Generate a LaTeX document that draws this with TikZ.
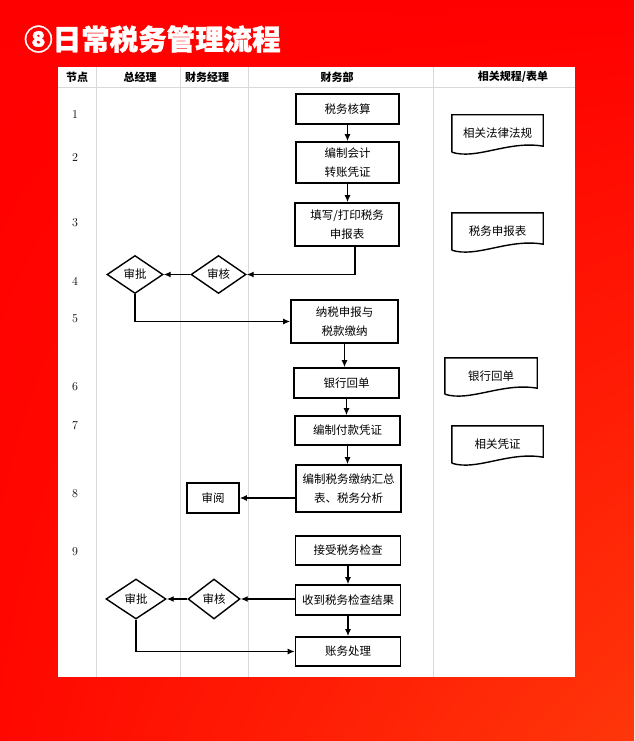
\documentclass[tikz,border=0pt]{standalone}
\usepackage{fontspec}
\newfontfamily\cjk{Noto Sans CJK SC}
\newfontfamily\cjktitle{Noto Sans CJK SC}[FakeBold=1.2]
\usetikzlibrary{arrows.meta, calc, shapes.geometric, shadings}
\definecolor{bgred}{RGB}{255,8,0}
\definecolor{bgorange}{RGB}{255,55,10}

\begin{document}
\begin{tikzpicture}[x=1pt, y=-1pt, >={Latex[length=7pt,width=6pt]},
    box/.style={draw, line width=1.6pt, font=\cjk\fontsize{11.5}{19}\selectfont, align=center, inner sep=0pt, minimum width=105, minimum height=30},
    chk/.style={diamond, draw, line width=1.4pt, font=\cjk\fontsize{11.5}{13}\selectfont, inner sep=0pt},
    doc/.style={font=\cjk\fontsize{11.5}{13}\selectfont, inner sep=0pt},
    link/.style={->, line width=1.3pt},
    head/.style={font=\cjk\bfseries\fontsize{11}{13}\selectfont},
    grid/.style={draw=gray!30, line width=0.6pt}]
    \useasboundingbox (0,0) rectangle (634,741);
    \shade[upper left=red, upper right=red, lower left=bgred, lower right=bgorange] (0,0) rectangle (634,741);
    \node[anchor=west, text=white, font=\cjktitle\bfseries\fontsize{28.5}{30}\selectfont, inner sep=0pt] (title) at (24,39) {⑧日常税务管理流程};
    \fill[white] (58,67) rectangle (575,677);
    \foreach \x in {96,180,248,433} \draw[grid] (\x,67) -- (\x,677);
    \draw[grid] (58,87) -- (575,87);
    \node[head] (h1) at (77,77) {节点};
    \node[head] (h2) at (140,77) {总经理};
    \node[head] (h3) at (207,77) {财务经理};
    \node[head] (h4) at (337,77) {财务部};
    \node[head] (h5) at (513,77) {相关规程/表单};
    \foreach \n/\y in {1/115,2/158,3/223,4/281,5/319,6/387,7/426,8/494,9/552}
        \node[font=\fontsize{12}{14}\selectfont] (n\n) at (75,\y) {\n};

    \node[box, minimum width=103] (b1) at (347.5,109) {税务核算};
    \node[box, minimum width=103, minimum height=41] (b2) at (347.5,162.5) {编制会计\\转账凭证};
    \node[box, minimum width=104, minimum height=43] (b3) at (347,224.5) {填写/打印税务\\申报表};
    \node[chk, minimum width=55, minimum height=38] (sh1) at (218.5,274.5) {审核};
    \node[chk, minimum width=56, minimum height=38] (sp1) at (135,274.5) {审批};
    \node[box, minimum width=107, minimum height=43] (b4) at (344.5,321.5) {纳税申报与\\税款缴纳};
    \node[box] (b5) at (346.5,383) {银行回单};
    \node[box, minimum height=29] (b6) at (347.5,430.5) {编制付款凭证};
    \node[box, minimum height=47] (b7) at (348.5,488.5) {编制税务缴纳汇总\\表、税务分析};
    \node[box, minimum width=52] (sy) at (213,498) {审阅};
    \node[box, minimum height=29] (b8) at (348,550.5) {接受税务检查};
    \node[box] (b9) at (348,600) {收到税务检查结果};
    \node[chk, minimum width=52, minimum height=40] (sh2) at (214,599) {审核};
    \node[chk, minimum width=60, minimum height=40] (sp2) at (136,599) {审批};
    \node[box, minimum height=29] (b10) at (348,651.5) {账务处理};

    \node[doc, minimum width=91, minimum height=37] (r1) at (497.5,133.5) {相关法律法规};
    \node[doc, minimum width=91, minimum height=37] (r2) at (497.5,231.5) {税务申报表};
    \node[doc, minimum width=92, minimum height=36] (r3) at (491,376) {银行回单};
    \node[doc, minimum width=91, minimum height=37] (r4) at (497.5,444.5) {相关凭证};
    \foreach \r in {r1,r2,r3,r4}
        \draw[line width=1.4pt] (\r.south west) -- (\r.north west) -- (\r.north east) -- ($(\r.south east)+(0,-6)$) .. controls +(-35,-6) and +(25,8) .. (\r.south west);

    \draw[link] (b1.south) -- (b1.south |- b2.north);
    \draw[link] (b2.south) -- (b2.south |- b3.north);
    \draw[link] ([xshift=8pt]b3.south) |- (sh1.east);
    \draw[link] (sh1.west) -- (sp1.east);
    \draw[link] (sp1.south) |- (b4.west);
    \draw[link] (b4.south) -- (b4.south |- b5.north);
    \draw[link] (b5.south) -- (b5.south |- b6.north);
    \draw[link] (b6.south) -- (b6.south |- b7.north);
    \draw[link] (b7.west |- sy.east) -- (sy.east);
    \draw[link] (b8.south) -- (b8.south |- b9.north);
    \draw[link] (b9.south) -- (b9.south |- b10.north);
    \draw[link] (b9.west |- sh2.east) -- (sh2.east);
    \draw[link] (sh2.west) -- (sp2.east);
    \draw[link] (sp2.south) |- (b10.west);
\end{tikzpicture}
\end{document}
